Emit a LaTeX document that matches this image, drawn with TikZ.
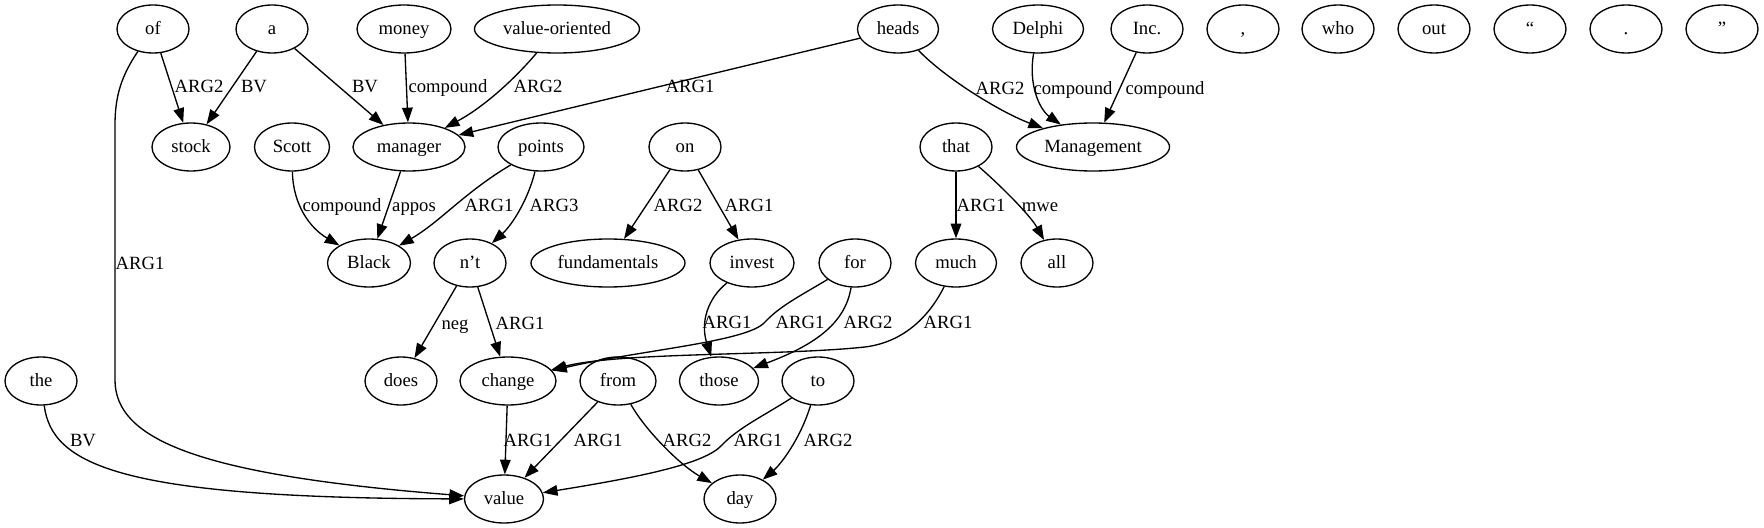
\documentclass[tikz,border=0pt]{standalone}
\usepackage{fontspec}
\setmainfont{Liberation Serif}
\newfontfamily\tmsfont{Liberation Serif}
\usetikzlibrary{arrows.meta,shapes.geometric}
\begin{document}
\begin{tikzpicture}[x=0.75pt,y=-0.75pt,
  tok/.style={draw, ellipse, line width=1pt, inner sep=0pt, minimum height=36pt, minimum width=54pt,
    font=\tmsfont\fontsize{14}{16}\selectfont, text height=8.6pt, text depth=0pt},
  lbl/.style={inner sep=0pt, font=\tmsfont\fontsize{14}{16}\selectfont, text height=9pt, text depth=0pt},
  dep/.style={draw, line width=1pt, -{Triangle[length=11pt,width=8pt]}}]
\useasboundingbox (0,0) rectangle (1764,528);
% row 1
\node[tok] (wof) at (153,29) {of};
\node[tok] (wa) at (272,29) {a};
\node[tok, minimum width=70.5pt] (wmoney) at (404,29) {money};
\node[tok, minimum width=123.75pt] (wvo) at (557,29) {value-oriented};
\node[tok, minimum width=60.75pt] (wheads) at (898,29) {heads};
\node[tok, minimum width=68.25pt] (wdelphi) at (1038,29) {Delphi};
\node[tok] (winc) at (1147,29) {Inc.};
\node[tok] (wcomma) at (1243,29) {,};
\node[tok] (wwho) at (1338,29) {who};
\node[tok] (wout) at (1434,29) {out};
\node[tok] (wlq) at (1530,29) {“};
\node[tok] (wperiod) at (1626,29) {.};
\node[tok] (wrq) at (1722,29) {”};
% row 2
\node[tok, minimum width=58.5pt] (wstock) at (191,147) {stock};
\node[tok, minimum width=56.25pt] (wscott) at (292,147) {Scott};
\node[tok, minimum width=84pt] (wmanager) at (409,147) {manager};
\node[tok, minimum width=64.5pt] (wpoints) at (541,147) {points};
\node[tok] (won) at (685,147) {on};
\node[tok] (wthat) at (956,147) {that};
\node[tok, minimum width=114.75pt] (wmgmt) at (1093,147) {Management};
% row 3
\node[tok, minimum width=62.25pt] (wblack) at (369,263) {Black};
\node[tok] (wnt) at (470,263) {n’t};
\node[tok, minimum width=115.5pt] (wfund) at (608,263) {fundamentals};
\node[tok, minimum width=63pt] (winvest) at (752,263) {invest};
\node[tok] (wfor) at (855,263) {for};
\node[tok, minimum width=60.75pt] (wmuch) at (956,263) {much};
\node[tok] (wall) at (1057,263) {all};
% row 4
\node[tok] (wthe) at (41,381) {the};
\node[tok] (wdoes) at (401,381) {does};
\node[tok, minimum width=72pt] (wchange) at (508,381) {change};
\node[tok, minimum width=57pt] (wfrom) at (618,381) {from};
\node[tok, minimum width=59.25pt] (wthose) at (719,381) {those};
\node[tok] (wto) at (818,381) {to};
% row 5
\node[tok, minimum width=59.25pt] (wvalue) at (504,499) {value};
\node[tok] (wday) at (740,499) {day};

% edges
\draw[dep] (wof) -- (wstock);
\draw[dep] (wa) -- (wstock);
\draw[dep] (wa) -- (wmanager);
\draw[dep] (wmoney) -- (wmanager);
\draw[dep] (wvo) .. controls (512,82) and (482,108) .. (wmanager);
\draw[dep] (wheads) -- (wmanager);
\draw[dep] (wheads) .. controls (945,78) and (1000,112) .. (wmgmt);
\draw[dep] (wdelphi) .. controls (1028,85) and (1040,110) .. (wmgmt);
\draw[dep] (winc) -- (wmgmt);
\draw[dep] (wscott) .. controls (293,205) and (310,228) .. (wblack);
\draw[dep] (wmanager) -- (wblack);
\draw[dep] (wpoints) .. controls (465,192) and (440,222) .. (wblack);
\draw[dep] (wpoints) .. controls (528,200) and (512,225) .. (wnt);
\draw[dep] (won) -- (wfund);
\draw[dep] (won) -- (winvest);
\draw[dep] (wthat) -- (wmuch);
\draw[dep] (wthat) .. controls (1000,185) and (1030,215) .. (wall);
\draw[dep] (wof) .. controls (122,75) and (115,95) .. (115,125) -- (115,380) .. controls (115,440) and (200,475) .. (wvalue);
\draw[dep] (wthe) .. controls (52,465) and (120,498) .. (wvalue);
\draw[dep] (wnt) -- (wdoes);
\draw[dep] (wnt) -- (wchange);
\draw[dep] (wchange) -- (wvalue);
\draw[dep] (wfrom) -- (wvalue);
\draw[dep] (wfrom) .. controls (645,430) and (680,465) .. (wday);
\draw[dep] (wto) .. controls (765,415) and (738,428) .. (722,445) .. controls (705,464) and (640,477) .. (wvalue);
\draw[dep] (wto) .. controls (800,440) and (780,465) .. (wday);
\draw[dep] (winvest) .. controls (708,298) and (700,322) .. (wthose);
\draw[dep] (wfor) .. controls (800,296) and (780,306) .. (765,322) .. controls (748,342) and (640,350) .. (wchange);
\draw[dep] (wfor) .. controls (845,325) and (812,346) .. (wthose);
\draw[dep] (wmuch) .. controls (930,315) and (905,342) .. (865,347) .. controls (780,356) and (620,352) .. (wchange);

% labels
\node[lbl] (l1) at (199,87) {ARG2};
\node[lbl] (l2) at (254,87) {BV};
\node[lbl] (l3) at (365,87) {BV};
\node[lbl] (l4) at (448,87) {compound};
\node[lbl] (l5) at (538,87) {ARG2};
\node[lbl] (l6) at (690,87) {ARG1};
\node[lbl] (l7) at (1000,88) {ARG2};
\node[lbl] (l8) at (1073,88) {compound};
\node[lbl] (l9) at (1165,88) {compound};
\node[lbl] (l10) at (342,205) {compound};
\node[lbl] (l11) at (414,205) {appos};
\node[lbl] (l12) at (489,205) {ARG1};
\node[lbl] (l13) at (554,205) {ARG3};
\node[lbl] (l14) at (678,205) {ARG2};
\node[lbl] (l15) at (749,205) {ARG1};
\node[lbl] (l16) at (981,205) {ARG1};
\node[lbl] (l17) at (1040,205) {mwe};
\node[lbl] (l18) at (140,263) {ARG1};
\node[lbl] (l19) at (455,323) {neg};
\node[lbl] (l20) at (520,323) {ARG1};
\node[lbl] (l21) at (727,322) {ARG1};
\node[lbl] (l22) at (800,322) {ARG1};
\node[lbl] (l23) at (868,322) {ARG2};
\node[lbl] (l24) at (948,322) {ARG1};
\node[lbl] (l25) at (83,440) {BV};
\node[lbl] (l26) at (528,440) {ARG1};
\node[lbl] (l27) at (598,440) {ARG1};
\node[lbl] (l28) at (687,440) {ARG2};
\node[lbl] (l29) at (758,440) {ARG1};
\node[lbl] (l30) at (828,440) {ARG2};
\end{tikzpicture}
\end{document}
